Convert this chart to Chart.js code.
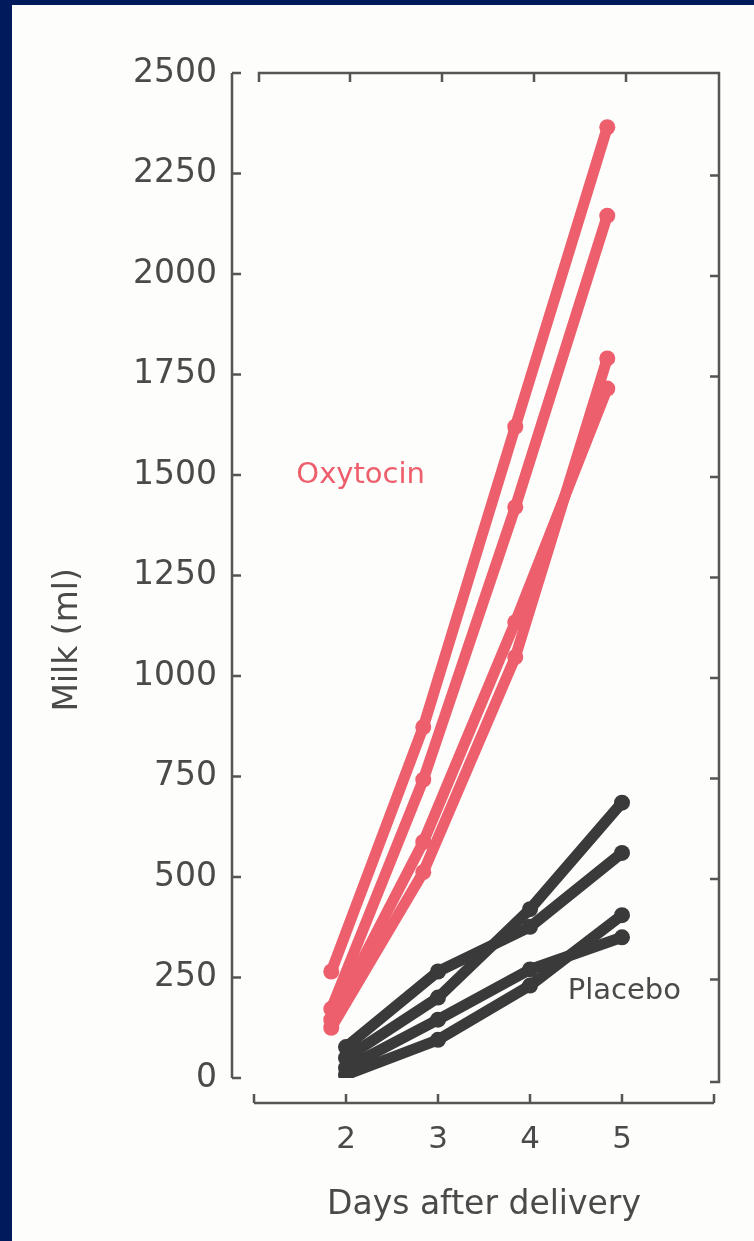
<!DOCTYPE html>
<html>
<head>
<meta charset="utf-8">
<script src="https://cdn.jsdelivr.net/npm/chart.js@4.4.1/dist/chart.umd.min.js"></script>
<style>
  html, body { margin: 0; padding: 0; background: #001a5c; }
  #paper { position: absolute; left: 12px; top: 5px; width: 742px; height: 1236px; background: #fdfdfb; }
  canvas { display: block; }
</style>
</head>
<body>
<div id="paper"><canvas id="chart" width="742" height="1236"></canvas></div>
<script>
// days after delivery and axis ticks
const days = [2, 3, 4, 5];
const milkTicks = [0, 250, 500, 750, 1000, 1250, 1500, 1750, 2000, 2250, 2500];

// oxytocin group, ml of milk per day
const oxytocin1 = [265, 873, 1620, 2365];
const oxytocin2 = [172, 742, 1420, 2145];
const oxytocin3 = [145, 587, 1134, 1715];
const oxytocin4 = [125, 512, 1047, 1790];

// placebo group
const placebo1 = [50, 200, 420, 685];
const placebo2 = [77, 265, 376, 560];
const placebo3 = [25, 145, 270, 350];
const placebo4 = [8, 95, 230, 405];

// oxytocin points are printed a bit left of the day mark
const oxyShift = -0.16;

const red = '#ee5f6d';
const dark = '#3a3a3a';
const ink = '#4a4a4a';
const font = 'DejaVu Sans';

const canvas = document.getElementById('chart');
const ctx = canvas.getContext('2d');

function series(values, color, shift) {
    return {
        data: values.map((v, i) => ({ x: days[i] + shift, y: v })),
        borderColor: color,
        backgroundColor: color,
        borderWidth: 11,
        borderCapStyle: 'round',
        borderJoinStyle: 'round',
        pointRadius: 8,
        pointBorderWidth: 0,
        pointBackgroundColor: color,
        tension: 0
    };
}

// offset axes, open box, y title and group labels
const framePlugin = {
    id: 'frame',
    afterDraw(chart) {
        const c = chart.ctx;
        const xs = chart.scales.x;
        const ys = chart.scales.y;
        const area = chart.chartArea;
        const x1 = xs.getPixelForValue(1), x6 = xs.getPixelForValue(6);
        const y0 = ys.getPixelForValue(0), yTop = ys.getPixelForValue(2500);
        const tick = 9;
        c.save();
        c.strokeStyle = '#555';
        c.lineWidth = 2.5;
        c.lineCap = 'butt';

        // left axis
        const lx = area.left - 22;
        c.beginPath();
        c.moveTo(lx, yTop); c.lineTo(lx, y0);
        milkTicks.forEach(v => {
            const py = ys.getPixelForValue(v);
            c.moveTo(lx, py); c.lineTo(lx + tick, py);
        });
        c.stroke();

        // bottom axis
        const by = area.bottom + 25;
        c.beginPath();
        c.moveTo(x1, by); c.lineTo(x6, by);
        [1, ...days, 6].forEach(d => {
            const px = xs.getPixelForValue(d);
            c.moveTo(px, by); c.lineTo(px, by - tick);
        });
        c.stroke();

        // top and right of the box
        c.beginPath();
        c.moveTo(x1 + 5, yTop + tick); c.lineTo(x1 + 5, yTop);
        c.lineTo(x6 + 5, yTop); c.lineTo(x6 + 5, y0 + 4);
        c.lineTo(x6 + 5 - tick, y0 + 4);
        days.forEach(d => {
            const px = xs.getPixelForValue(d) + 4;
            c.moveTo(px, yTop); c.lineTo(px, yTop + tick);
        });
        milkTicks.slice(1, -1).forEach(v => {
            const py = ys.getPixelForValue(v) + 2;
            c.moveTo(x6 + 5, py); c.lineTo(x6 + 5 - tick, py);
        });
        c.stroke();

        // y title sits lower than the middle of the axis
        c.fillStyle = ink;
        c.font = '33px "' + font + '"';
        c.textAlign = 'center';
        c.textBaseline = 'middle';
        c.translate(56, ys.getPixelForValue(1090));
        c.rotate(-Math.PI / 2);
        c.fillText('Milk (ml)', 0, 0);
        c.setTransform(1, 0, 0, 1, 0, 0);

        // group labels
        c.font = '29px "' + font + '"';
        c.textAlign = 'left';
        c.fillStyle = red;
        c.fillText('Oxytocin', xs.getPixelForValue(1.46), ys.getPixelForValue(1500));
        c.fillStyle = ink;
        c.fillText('Placebo', xs.getPixelForValue(4.41), ys.getPixelForValue(215));
        c.restore();
    }
};

const config = {
    type: 'line',
    data: {
        datasets: [
            series(placebo1, dark, 0),
            series(placebo2, dark, 0),
            series(placebo3, dark, 0),
            series(placebo4, dark, 0),
            series(oxytocin1, red, oxyShift),
            series(oxytocin2, red, oxyShift),
            series(oxytocin3, red, oxyShift),
            series(oxytocin4, red, oxyShift)
        ]
    },
    options: {
        responsive: false,
        animation: false,
        layout: { padding: { top: 68, right: 40, left: 0, bottom: 0 } },
        plugins: { legend: { display: false }, tooltip: { enabled: false } },
        scales: {
            x: {
                type: 'linear',
                position: 'bottom',
                min: 1,
                max: 6,
                afterBuildTicks: s => { s.ticks = days.map(v => ({ value: v })); },
                afterFit: s => { s.height = 163; },
                grid: { display: false, drawTicks: false },
                border: { display: false },
                ticks: { color: ink, padding: 43, font: { family: font, size: 31 }, callback: v => String(v) },
                title: {
                    display: true,
                    text: 'Days after delivery',
                    color: ink,
                    font: { family: font, size: 33 },
                    padding: { top: 0, bottom: 16 }
                }
            },
            y: {
                type: 'linear',
                min: 0,
                max: 2500,
                afterBuildTicks: s => { s.ticks = milkTicks.map(v => ({ value: v })); },
                afterFit: s => { s.width = 242; },
                grid: { display: false, drawTicks: false },
                border: { display: false },
                ticks: { color: ink, padding: 37, font: { family: font, size: 33 }, callback: v => String(v) },
                title: { display: false }
            }
        }
    },
    plugins: [framePlugin]
};

const myChart = new Chart(ctx, config);
</script>
</body>
</html>
